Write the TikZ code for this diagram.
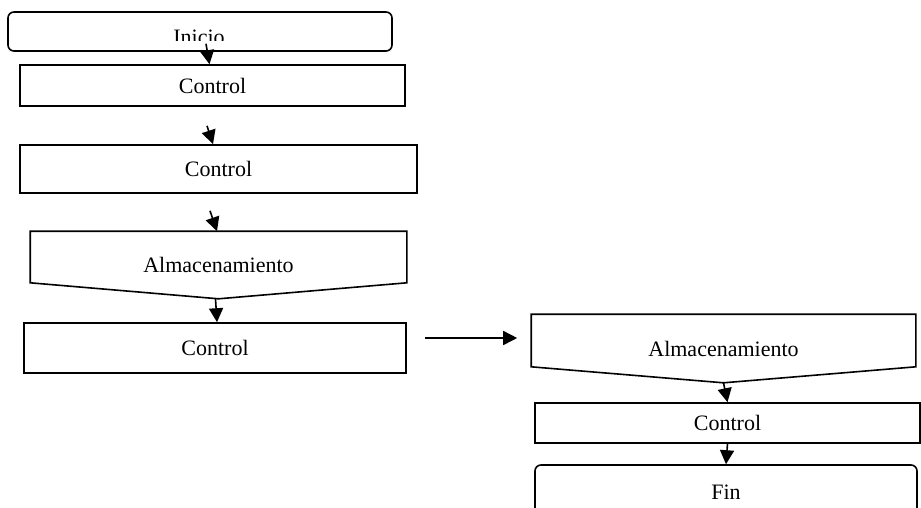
\documentclass[tikz,border=0pt]{standalone}
\usepackage{fontspec}
\setmainfont{Liberation Serif}
\usetikzlibrary{arrows.meta}
\usetikzlibrary{calc}
\usetikzlibrary{positioning}
\tikzset{
    box nodes/.style={
        draw,
        line width=1.6pt,
        inner sep=0pt,
        font=\fontsize{22}{26}\selectfont
    },
    term nodes/.style={
        box nodes,
        rounded corners=6pt
    },
    store nodes/.style={
        box nodes,
        draw=none
    },
    flow/.style={
        line width=1.6pt,
        -{Triangle[length=14pt,width=14pt]}
    }
}
\begin{document}
\begin{tikzpicture}[x=1pt,y=-1pt]
            \useasboundingbox (0,0) rectangle (921,507);
            \clip (0,0) rectangle (921,507);
            \node[term nodes,minimum width=384pt,minimum height=39pt] (ini) at (200,31.5) {};
            \begin{scope}
              \clip (8,12) rectangle (392,40);
              \node[font=\fontsize{22}{26}\selectfont,anchor=base,inner sep=0pt] (initxt) at (199,44) {Inicio};
            \end{scope}
            \node[box nodes,minimum width=385pt,minimum height=41pt] (c1) at (212.5,85.5) {Control};
            \node[box nodes,minimum width=397pt,minimum height=48pt] (c2) at (218.5,169) {Control};
            \node[store nodes,minimum width=375pt,minimum height=66pt] (alm1) at (218.5,265) {Almacenamiento};
            \node[box nodes,minimum width=382pt,minimum height=50pt] (c3) at (215,348) {Control};
            \node[store nodes,minimum width=383pt,minimum height=67pt] (alm2) at (723.5,348.5) {Almacenamiento};
            \node[box nodes,minimum width=385pt,minimum height=40pt] (c4) at (727.5,423) {Control};
            \node[term nodes,minimum width=382pt,minimum height=54pt] (fin) at (726,492) {Fin};
            \foreach \s in {alm1,alm2}
              \draw[line width=1.6pt] (\s.north west) -- (\s.north east) -- ([yshift=16pt]\s.south east)
                -- (\s.south) -- ([yshift=16pt]\s.south west) -- cycle;
            \draw[flow] ([xshift=6pt,yshift=8pt]ini.south) -- ([xshift=-3pt]c1.north);
            \draw[flow] ([xshift=-5.5pt,yshift=-19pt]c1.south) -- ([xshift=-5.5pt]c2.north);
            \draw[flow] ([xshift=-8.5pt,yshift=-17pt]c2.south) -- ([xshift=-1.5pt]alm1.north);
            \draw[flow] ([xshift=-3pt]alm1.south) -- ([xshift=2pt]c3.north);
            \draw[flow,shorten <=18pt,shorten >=14pt] ([yshift=10pt]c3.east) -- ([yshift=10.5pt]alm2.west);
            \foreach \s/\t in {alm2/c4,c4/fin}
              \draw[flow] (\s.south) -- (\t.north);
          \end{tikzpicture}
\end{document}
